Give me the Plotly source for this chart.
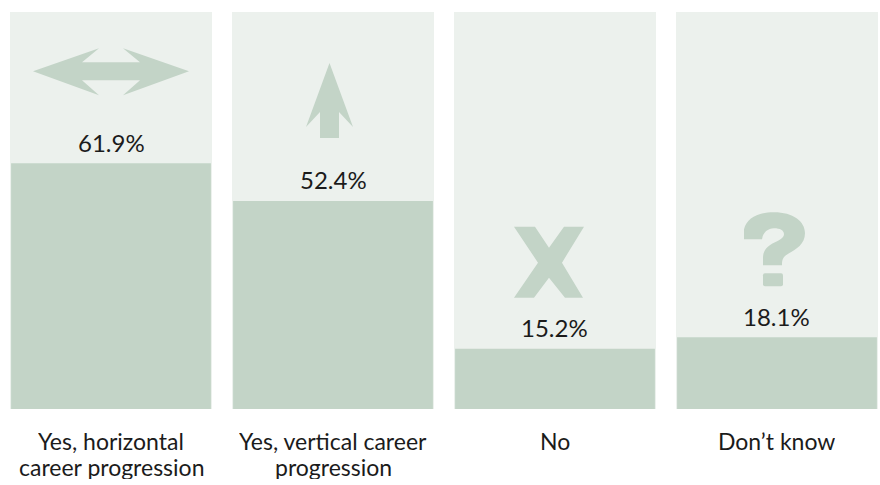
import plotly.graph_objects as go

# Survey answers and their shares (%)
categories = [
    "Yes, horizontal<br>career progression",
    "Yes, vertical career<br>progression",
    "No",
    "Don\u2019t know",
]
values = [61.9, 52.4, 15.2, 18.1]
full_scale = [100, 100, 100, 100]

PANEL_BG = "#ecf1ed"
BAR_FILL = "#c3d4c7"
TEXT = "#1b1b1b"
FONT = "Lato, 'Open Sans', sans-serif"
FONT_SIZE = 23
LINE_GAP = 26

W, H = 880, 485
M_L, M_R, M_T, M_B = 0, 0, 12, 76
X_RANGE = [-0.5, 3.464]
Y_RANGE = [0, 100]
PX_PER_X = (W - M_L - M_R) / (X_RANGE[1] - X_RANGE[0])
PX_PER_Y = (H - M_T - M_B) / (Y_RANGE[1] - Y_RANGE[0])

idx = list(range(len(categories)))

fig = go.Figure()
fig.add_bar(x=idx, y=full_scale, width=0.91, marker=dict(color=PANEL_BG, line_width=0),
            hoverinfo="skip", showlegend=False)
fig.add_bar(x=idx, y=values, width=0.90, marker=dict(color=BAR_FILL, line_width=0),
            hovertemplate="%{y:.1f}%<extra></extra>", showlegend=False)

# value labels above each bar
for i, v in zip(idx, values):
    fig.add_annotation(x=i, y=v, text=f"{v:.1f}%", showarrow=False,
                       yanchor="middle", yshift=21,
                       font=dict(family=FONT, size=FONT_SIZE + 1, color=TEXT))

# category names under the panels, one annotation per line for a tight line height
for i, name in zip(idx, categories):
    for k, line in enumerate(name.split("<br>")):
        fig.add_annotation(x=i, xref="x", y=0, yref="paper", text=line, showarrow=False,
                           yanchor="middle", yshift=-(32 + LINE_GAP * k),
                           height=LINE_GAP - 2, valign="middle", borderpad=0,
                           font=dict(family=FONT, size=FONT_SIZE, color=TEXT))


def icon_path(i, v, cmds):
    """Build an SVG path anchored at bar i's top; offsets are in pixels (y down)."""
    parts = []
    for cmd, pts in cmds:
        coords = " ".join(f"{i + dx / PX_PER_X:.5f},{v - dy / PX_PER_Y:.5f}" for dx, dy in pts)
        parts.append(f"{cmd} {coords}" if pts else cmd)
    return " ".join(parts)


def add_icon(i, cmds):
    fig.add_shape(type="path", xref="x", yref="y", path=icon_path(i, values[i], cmds),
                  fillcolor=BAR_FILL, line_width=0, layer="above")


# horizontal double arrow
add_icon(0, [
    ("M", [(-78, -92)]), ("L", [(-12, -115)]), ("L", [(-29, -101)]), ("L", [(29, -101)]),
    ("L", [(12, -115)]), ("L", [(78, -92)]), ("L", [(12, -68)]), ("L", [(29, -83)]),
    ("L", [(-29, -83)]), ("L", [(-12, -68)]), ("Z", []),
])

# upward arrow
add_icon(1, [
    ("M", [(-3.5, -138)]), ("L", [(20, -74)]), ("L", [(6, -89)]), ("L", [(6, -63)]),
    ("L", [(-13, -63)]), ("L", [(-13, -89)]), ("L", [(-27, -74)]), ("Z", []),
])

# cross
add_icon(2, [
    ("M", [(-41, -122)]), ("L", [(-20, -122)]), ("L", [(-6, -101)]), ("L", [(9, -122)]),
    ("L", [(29, -122)]), ("L", [(7, -86)]), ("L", [(28, -51)]), ("L", [(10, -51)]),
    ("L", [(-6, -71)]), ("L", [(-21, -51)]), ("L", [(-41, -51)]), ("L", [(-17, -86)]),
    ("Z", []),
])

# question mark: hook + stem, then the dot
ox, oy = 777, 337
def q(pts):
    return [(x - ox, y - oy) for x, y in pts]

add_icon(3, [
    ("M", q([(744, 239)])), ("L", q([(744, 229)])),
    ("C", q([(747, 218), (758, 212), (774, 212)])),
    ("C", q([(793, 212), (805, 221), (805, 233)])),
    ("C", q([(805, 244), (796, 249), (789, 253)])),
    ("C", q([(784, 256), (782, 258), (782, 265)])),
    ("L", q([(763, 265)])), ("L", q([(763, 258)])),
    ("C", q([(763, 250), (767, 246), (775, 242)])),
    ("C", q([(781, 239), (784, 237), (784, 234)])),
    ("C", q([(784, 230), (780, 228), (774, 228)])),
    ("C", q([(768, 228), (763, 232), (762, 239)])),
    ("Z", []),
])
add_icon(3, [
    ("M", q([(765, 273)])), ("L", q([(781, 273)])),
    ("Q", q([(783, 273), (783, 275)])), ("L", q([(783, 284)])),
    ("Q", q([(783, 286), (781, 286)])), ("L", q([(765, 286)])),
    ("Q", q([(763, 286), (763, 284)])), ("L", q([(763, 275)])),
    ("Q", q([(763, 273), (765, 273)])), ("Z", []),
])

fig.update_layout(
    width=W, height=H,
    margin=dict(l=M_L, r=M_R, t=M_T, b=M_B, pad=0),
    barmode="overlay",
    plot_bgcolor="white", paper_bgcolor="white",
    font=dict(family=FONT, size=FONT_SIZE, color=TEXT),
    xaxis=dict(range=X_RANGE, tickmode="array", tickvals=idx, showticklabels=False,
               showgrid=False, zeroline=False, showline=False, ticks="", fixedrange=True),
    yaxis=dict(range=Y_RANGE, visible=False, showgrid=False, zeroline=False, fixedrange=True),
)

fig.write_html("out.html")
